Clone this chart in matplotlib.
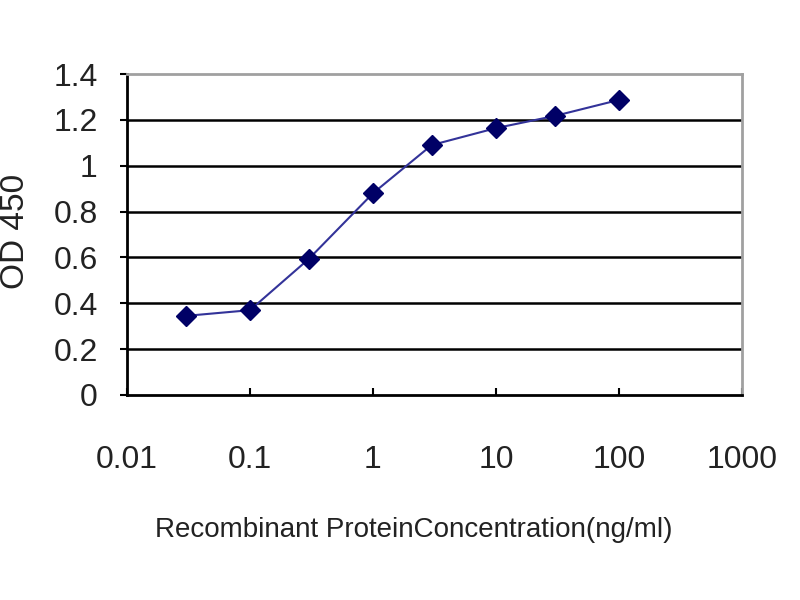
import matplotlib
matplotlib.use("Agg")
import matplotlib.pyplot as plt

conc = [0.03, 0.1, 0.3, 1, 3, 10, 30, 100]
od450 = [0.345, 0.37, 0.593, 0.88, 1.09, 1.164, 1.217, 1.287]
yticks = [0, 0.2, 0.4, 0.6, 0.8, 1, 1.2, 1.4]
ytick_labels = ["0", "0.2", "0.4", "0.6", "0.8", "1", "1.2", "1.4"]
xticks = [0.01, 0.1, 1, 10, 100, 1000]
xtick_labels = ["0.01", "0.1", "1", "10", "100", "1000"]

plt.rcParams['font.family'] = ['Liberation Sans', 'DejaVu Sans']

fig = plt.figure(figsize=(8, 6), dpi=100)
W, H = 800, 600
l, r, t, b = 127, 742, 74, 395
ax = fig.add_axes([l / W, 1 - b / H, (r - l) / W, (b - t) / H])

for yv in yticks[1:-1]:
    ax.axhline(yv, color='black', lw=1.8, zorder=1)

ax.plot(conc, od450, color='#333399', lw=1.5, marker='D', ms=10,
        mfc='#000066', mec='#000066', zorder=3)

ax.set_xscale('log')
ax.set_xlim(0.01, 1000)
ax.set_ylim(0, 1.4)
ax.set_xticks(xticks)
ax.set_xticklabels(xtick_labels)
ax.minorticks_off()
ax.set_yticks(yticks)
ax.set_yticklabels(ytick_labels)

ax.tick_params(axis='x', direction='in', length=5, width=1.5, pad=36,
               labelsize=23, colors='black')
ax.tick_params(axis='y', direction='out', length=5, width=1.5, pad=16,
               labelsize=23, colors='black')
for lab in ax.get_yticklabels():
    lab.set_color('#222222')
for lab in ax.get_xticklabels():
    lab.set_color('#222222')

ax.spines['left'].set_color('black')
ax.spines['bottom'].set_color('black')
ax.spines['left'].set_linewidth(2)
ax.spines['bottom'].set_linewidth(2)
ax.spines['top'].set_color('#a0a0a0')
ax.spines['right'].set_color('#a0a0a0')
ax.spines['top'].set_linewidth(2)
ax.spines['right'].set_linewidth(2)

ax.set_xlabel("Recombinant ProteinConcentration(ng/ml)", fontsize=20,
              color='#222222', va='center')
ax.xaxis.set_label_coords((414 - l) / (r - l), (b - 530) / (b - t))
ax.set_ylabel("OD 450", fontsize=24, color='#222222', va='center')
ax.yaxis.set_label_coords((16 - l) / (r - l), (b - 231) / (b - t))

fig.savefig("out.png", dpi=100, facecolor='white')
